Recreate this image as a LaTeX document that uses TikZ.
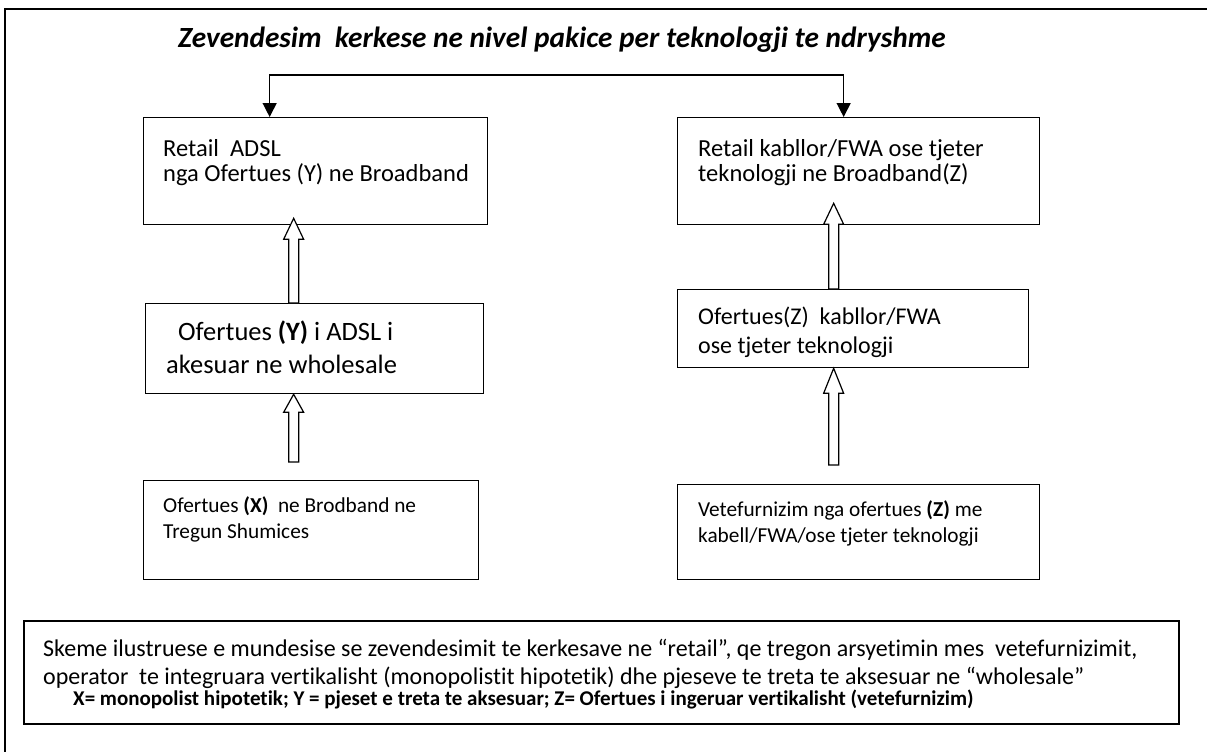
\documentclass[tikz,border=0pt]{standalone}
\usepackage{fontspec}
\setmainfont{Carlito}[Ligatures=NoCommon]
\usetikzlibrary{arrows.meta,calc}
\tikzset{
  boxstyle/.style={draw, line width=1.3pt, inner sep=0pt, anchor=north west},
  txt/.style={anchor=base west, inner sep=0pt},
  hollowstyle/.style={draw, fill=white, line width=1.2pt, line join=miter},
  linkstyle/.style={line width=1.3pt, {Triangle[width=14pt,length=14pt]}-{Triangle[width=14pt,length=14pt]}},
  topfont/.style={font=\fontsize{24.5}{28}\selectfont},
}
% #1 tip, #2 tail (bottom centre), #3 head length (downwards)
\newcommand{\hollowarrow}[3]{%
  \draw[hollowstyle] ($(#2)+(-5,0)$) -- ($(#1)+(-5,#3)$) -- ($(#1)+(-10,#3)$) -- (#1)
    -- ($(#1)+(10,#3)$) -- ($(#1)+(5,#3)$) -- ($(#2)+(5,0)$) -- cycle;}
\begin{document}
\begin{tikzpicture}[x=1pt,y=-1pt]
\useasboundingbox (0,0) rectangle (1207,752);
% outer frame (open to the right and bottom)
\draw[line width=1.6pt] (5,760) -- (5,9) -- (1215,9);

% title
\node[txt, font=\fontsize{29.3}{34}\selectfont\bfseries\itshape] (title) at (178,48)
  {Zevendesim\ \ kerkese ne nivel pakice per teknologji te ndryshme};

% boxes
\node[boxstyle, minimum width=344pt, minimum height=107pt] (b1) at (143,117) {};
\node[boxstyle, minimum width=362pt, minimum height=107pt] (b2) at (677,117) {};
\node[boxstyle, minimum width=338pt, minimum height=90pt]  (b3) at (145,303) {};
\node[boxstyle, minimum width=351pt, minimum height=78pt]  (b3r) at (677,289) {};
\node[boxstyle, minimum width=335pt, minimum height=99pt]  (b4) at (143,480) {};
\node[boxstyle, minimum width=362pt, minimum height=95pt]  (b4r) at (677,484) {};
\node[boxstyle, line width=1.8pt, minimum width=1155pt, minimum height=103pt] (bn) at (23,620) {};

% texts of the boxes
\node[txt, topfont] (b1a) at (163,156) {Retail\ \ ADSL};
\node[txt, topfont] (b1b) at (163,181) {nga Ofertues (Y) ne Broadband};
\node[txt, topfont] (b2a) at (698,156) {Retail kabllor/FWA ose tjeter};
\node[txt, topfont] (b2b) at (698,181) {teknologji ne Broadband(Z)};

\node[txt, font=\fontsize{26.5}{30}\selectfont] (b3a) at (178,340) {Ofertues \textbf{(Y)} i ADSL i};
\node[txt, font=\fontsize{26.5}{30}\selectfont] (b3b) at (166,373) {akesuar ne wholesale};

\node[txt, font=\fontsize{24}{28}\selectfont] (b3ra) at (698,324) {Ofertues(Z)\ \ kabllor/FWA};
\node[txt, font=\fontsize{24}{28}\selectfont] (b3rb) at (698,353) {ose tjeter teknologji};

\node[txt, font=\fontsize{21.3}{26}\selectfont] (b4a) at (163,512) {Ofertues \textbf{(X)}\ \ ne Brodband ne};
\node[txt, font=\fontsize{21.3}{26}\selectfont] (b4b) at (163,538) {Tregun Shumices};

\node[txt, font=\fontsize{21.3}{26}\selectfont] (b4ra) at (698,516) {Vetefurnizim nga ofertues \textbf{(Z)} me};
\node[txt, font=\fontsize{21.3}{26}\selectfont] (b4rb) at (698,542) {kabell/FWA/ose tjeter teknologji};

\node[txt, font=\fontsize{24}{28}\selectfont] (bna) at (43,656)
  {Skeme ilustruese e mundesise se zevendesimit te kerkesave ne “retail”, qe tregon arsyetimin mes\ \ vetefurnizimit,};
\node[txt, font=\fontsize{24}{28}\selectfont] (bnb) at (43,684)
  {operator\ \ te integruara vertikalisht (monopolistit hipotetik) dhe pjeseve te treta te aksesuar ne “wholesale”};
\node[txt, font=\fontsize{21}{24}\selectfont\bfseries] (bnc) at (73,705)
  {X= monopolist hipotetik; Y = pjeset e treta te aksesuar; Z= Ofertues i ingeruar vertikalisht (vetefurnizim)};

% connector between the two retail boxes
\draw[linkstyle] ([xshift=-46pt]b1.north) -- ++(0,-42) -| ([xshift=-15pt]b2.north);

% hollow upward arrows
\coordinate (t1) at ([xshift=-22pt,yshift=7pt]b1.south);
\coordinate (s1) at (t1 |- b3.north);
\hollowarrow{t1}{s1}{21}
\coordinate (t2) at (t1 |- b3.south);
\coordinate (s2) at ($(t1 |- b4.north)+(0,-18)$);
\hollowarrow{t2}{s2}{18}
\coordinate (t3) at ([xshift=-25pt,yshift=22pt]b2.south);
\coordinate (s3) at (t3 |- b3r.north);
\hollowarrow{t3}{s3}{21}
\coordinate (t4) at (t3 |- b3r.south);
\coordinate (s4) at ($(t3 |- b4r.north)+(0,-19)$);
\hollowarrow{t4}{s4}{25}
\end{tikzpicture}
\end{document}
